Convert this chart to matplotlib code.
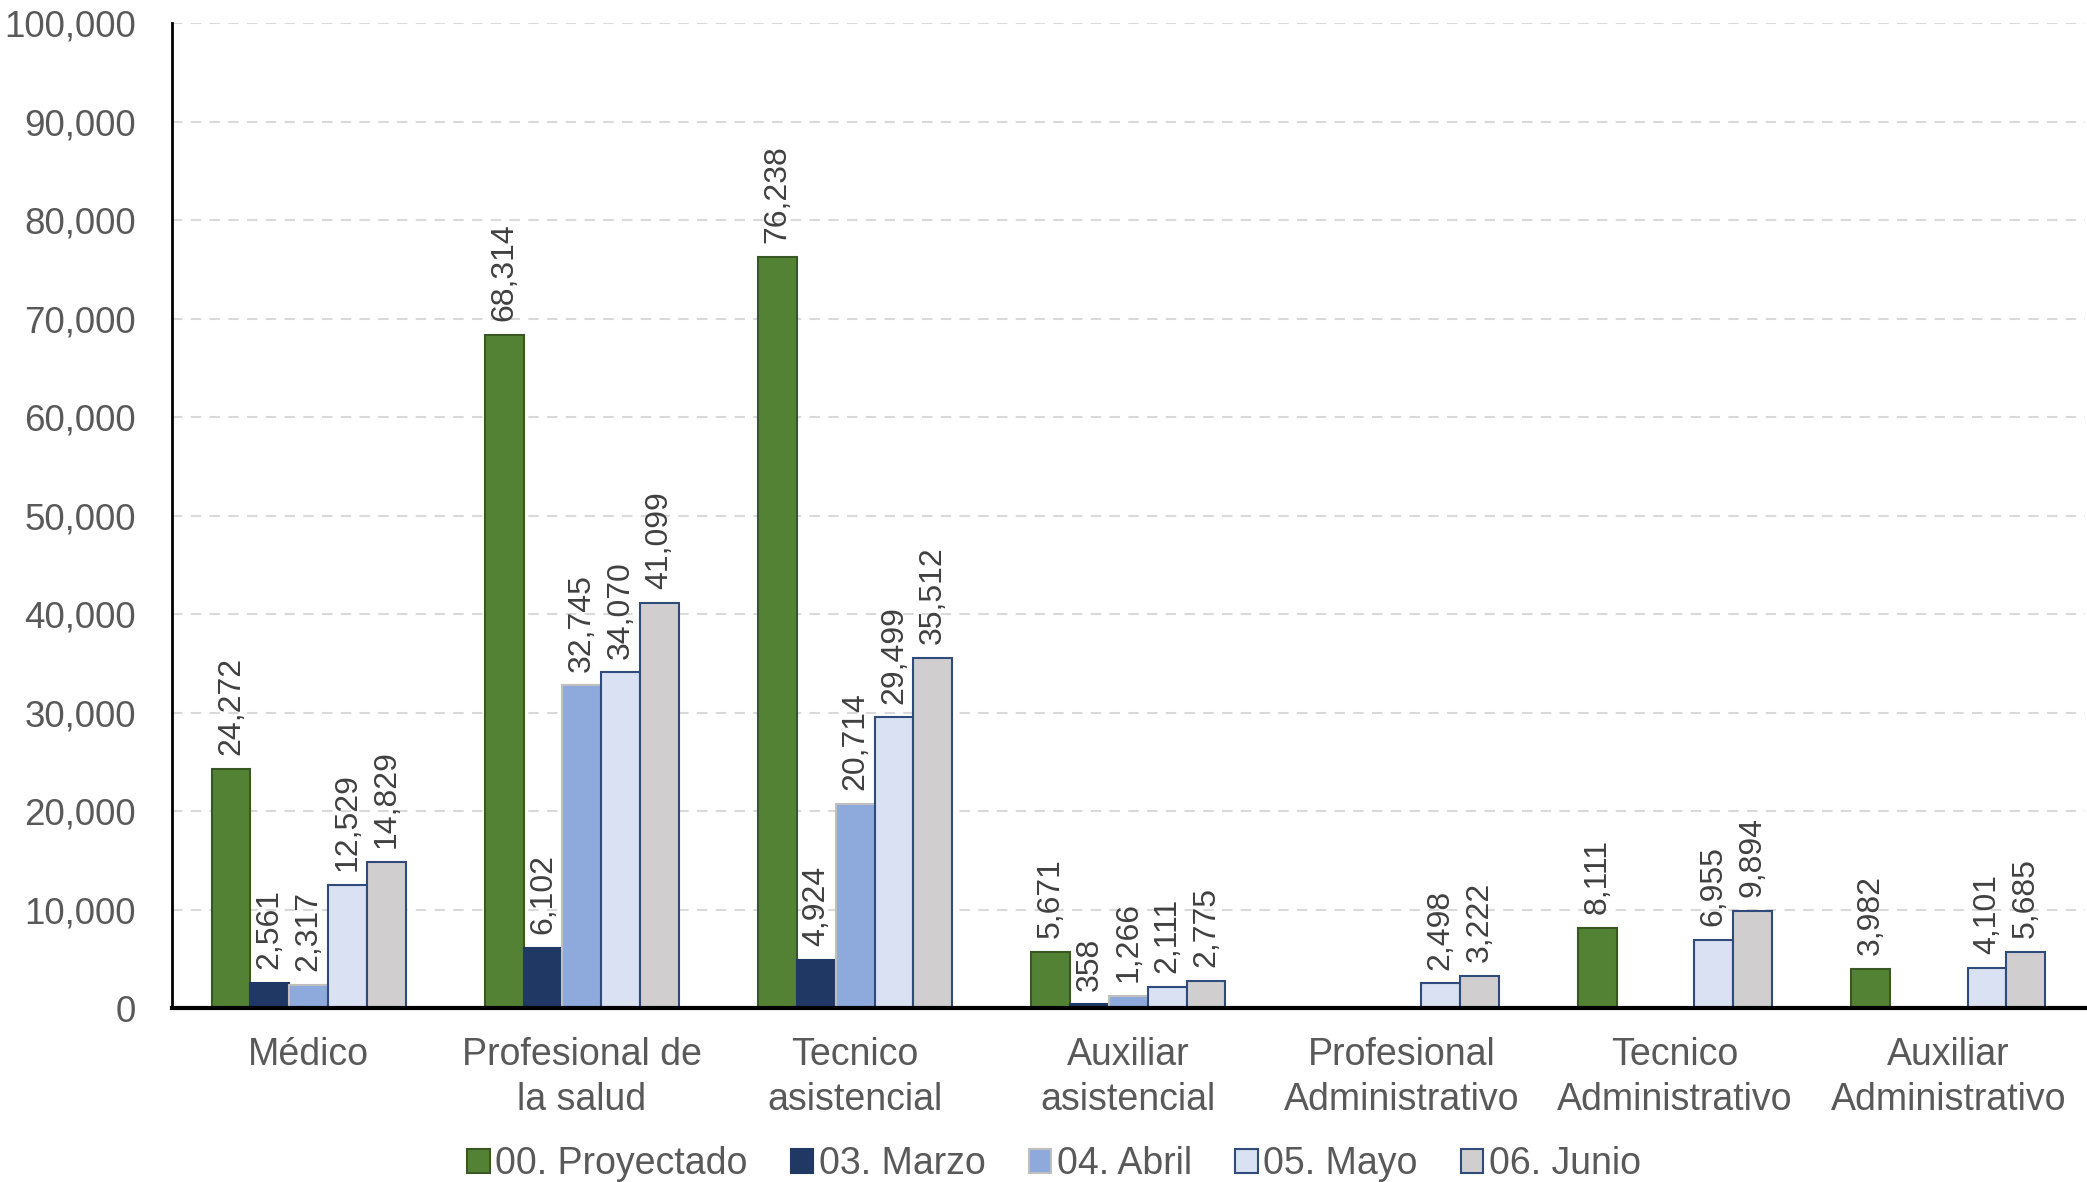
import numpy as np
import matplotlib.pyplot as plt
from matplotlib.ticker import FuncFormatter

plt.rcParams['font.family'] = ['Liberation Sans', 'DejaVu Sans']

categories = ['Médico', 'Profesional de\nla salud', 'Tecnico\nasistencial', 'Auxiliar\nasistencial',
              'Profesional\nAdministrativo', 'Tecnico\nAdministrativo', 'Auxiliar\nAdministrativo']
series = ['00. Proyectado', '03. Marzo', '04. Abril', '05. Mayo', '06. Junio']
proyectado = [24272, 68314, 76238, 5671, None, 8111, 3982]
marzo = [2561, 6102, 4924, 358, None, None, None]
abril = [2317, 32745, 20714, 1266, None, None, None]
mayo = [12529, 34070, 29499, 2111, 2498, 6955, 4101]
junio = [14829, 41099, 35512, 2775, 3222, 9894, 5685]

values = [proyectado, marzo, abril, mayo, junio]
faces = ['#548235', '#1F3864', '#8EA9DB', '#D9E1F2', '#D0CECE']
edges = ['#385723', '#1F3864', '#BFBFBF', '#2F4B7C', '#2F4B7C']

fig = plt.figure(figsize=(20.87, 11.82), dpi=100)
ax = fig.add_axes([0.0824, 0.1472, 0.9166, 0.8333])

x = np.arange(len(categories))
w = 0.142
for i, vals in enumerate(values):
    pos = x + (i - 2) * w
    hs = [np.nan if v is None else v for v in vals]
    ax.bar(pos, hs, width=w, color=faces[i], edgecolor=edges[i], linewidth=1.5,
           label=series[i], zorder=3)
    for p, v in zip(pos, vals):
        if v is None:
            continue
        ax.annotate(f'{v:,}', (p, v), xytext=(0, 10), textcoords='offset points',
                    rotation=90, ha='center', va='bottom', fontsize=23, color='#404040')

ax.set_xlim(-0.5, len(categories) - 0.5)
ax.set_ylim(0, 100000)
ax.set_yticks(np.arange(0, 100001, 10000))
ax.yaxis.set_major_formatter(FuncFormatter(lambda v, p: f'{int(v):,}'))
ax.set_xticks(x)
ax.set_xticklabels(categories, linespacing=1.3)
ax.tick_params(axis='y', length=0, labelsize=26.5, labelcolor='#595959', pad=26)
ax.tick_params(axis='x', length=0, labelsize=27, labelcolor='#595959', pad=21)
ax.grid(axis='y', color='#D9D9D9', linestyle=(0, (5, 4)), linewidth=1.5, zorder=0)

for s in ['top', 'right']:
    ax.spines[s].set_visible(False)
ax.spines['left'].set_color('black')
ax.spines['left'].set_linewidth(2)
ax.spines['bottom'].set_color('black')
ax.spines['bottom'].set_linewidth(3)
ax.spines['bottom'].set_zorder(4)

leg = fig.legend(loc='center', bbox_to_anchor=(0.505, 0.015), ncol=5, frameon=False,
                 fontsize=27, handlelength=0.6, handleheight=0.6, handletextpad=0.15,
                 columnspacing=1.15)
for t in leg.get_texts():
    t.set_color('#595959')

fig.savefig('out.png', dpi=100)
